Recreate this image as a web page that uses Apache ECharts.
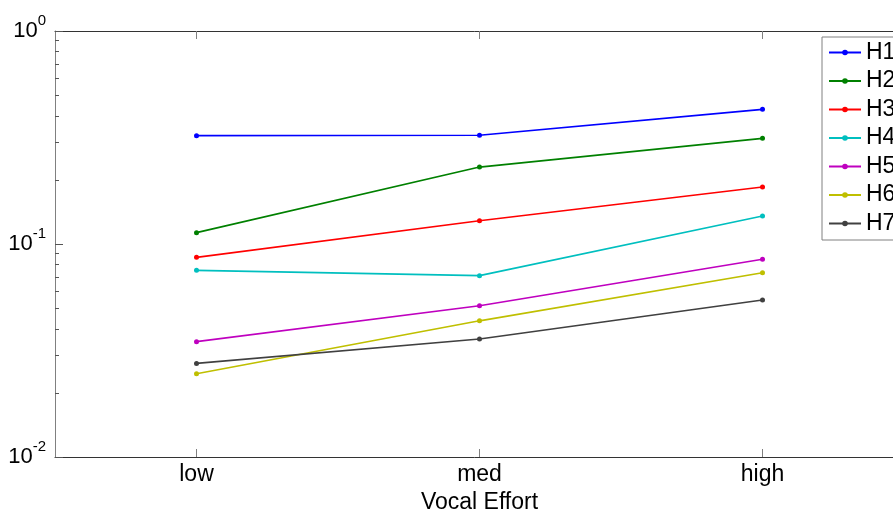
<!DOCTYPE html>
<html>
<head>
<meta charset="utf-8">
<script src="https://cdn.jsdelivr.net/npm/echarts@6/dist/echarts.min.js"></script>
<style>html,body{margin:0;padding:0;background:#fff}#c{width:893px;height:510px}</style>
</head>
<body>
<div id="c"></div>
<script>
var categories = ['low', 'med', 'high'];
var seriesNames = ['H1', 'H2', 'H3', 'H4', 'H5', 'H6', 'H7'];
var H1 = [0.3225, 0.324, 0.429];
var H2 = [0.113, 0.2298, 0.3134];
var H3 = [0.0866, 0.1286, 0.1852];
var H4 = [0.0752, 0.0710, 0.1353];
var H5 = [0.0348, 0.0513, 0.0848];
var H6 = [0.0246, 0.0436, 0.0733];
var H7 = [0.0275, 0.0358, 0.0546];
var majorTicks = [0.01, 0.1, 1];
var minorTicks = [0.02, 0.03, 0.04, 0.05, 0.06, 0.07, 0.08, 0.09, 0.2, 0.3, 0.4, 0.5, 0.6, 0.7, 0.8, 0.9];
var colors = ['#0000ff', '#008000', '#ff0000', '#00bfbf', '#bf00bf', '#bfbf00', '#404040'];
var allData = [H1, H2, H3, H4, H5, H6, H7];

var chart = echarts.init(document.getElementById('c'), null, {renderer: 'canvas'});
var font = 'Arial, "Liberation Sans", sans-serif';
var axisColor = '#333333';

var series = seriesNames.map(function (n, i) {
  return {
    name: n, type: 'line', data: allData[i], xAxisIndex: 0, yAxisIndex: 0,
    symbol: 'circle', symbolSize: 5, showSymbol: true,
    lineStyle: {width: 1.7, color: colors[i]},
    itemStyle: {color: colors[i]},
    animation: false
  };
});

chart.setOption({
  animation: false,
  textStyle: {fontFamily: font},
  grid: {left: 55, top: 31, right: -11, bottom: 53, containLabel: false, outerBoundsMode: 'none'},
  legend: {
    orient: 'vertical', left: 822, top: 37,
    data: seriesNames,
    itemWidth: 32, itemHeight: 7, itemGap: 5.5,
    padding: [4, 8, 5, 6],
    borderColor: '#808080', borderWidth: 1, backgroundColor: '#ffffff',
    textStyle: {fontSize: 23, color: '#000', fontFamily: font, lineHeight: 22}
  },
  xAxis: [{
    type: 'category', data: categories, position: 'bottom', boundaryGap: true,
    axisLine: {show: true, lineStyle: {color: axisColor, width: 1}},
    axisTick: {show: true, inside: true, length: 8, alignWithLabel: true, lineStyle: {color: '#808080'}},
    axisLabel: {fontSize: 23, color: '#000', margin: 6, fontFamily: font},
    splitLine: {show: false},
    name: 'Vocal Effort', nameLocation: 'middle', nameGap: 29,
    nameTextStyle: {fontSize: 23, color: '#000', fontFamily: font}
  }, {
    type: 'category', data: categories, position: 'top', boundaryGap: true,
    axisLine: {show: true, lineStyle: {color: axisColor, width: 1}},
    axisTick: {show: true, inside: true, length: 8, alignWithLabel: true, lineStyle: {color: '#808080'}},
    axisLabel: {show: false}, splitLine: {show: false}
  }],
  yAxis: [{
    type: 'log', logBase: 10, min: 0.01, max: 1, position: 'left',
    axisLine: {show: true, lineStyle: {color: '#808080', width: 1}},
    axisTick: {show: true, inside: true, length: 8, customValues: majorTicks, lineStyle: {color: '#555'}},
    axisLabel: {
      customValues: majorTicks, margin: 9, color: '#000',
      formatter: function (v) {
        var e = Math.round(Math.log10(v));
        return '{b|10}{s|' + e + '}';
      },
      rich: {
        b: {fontSize: 22, fontFamily: font, color: '#000'},
        s: {fontSize: 15, fontFamily: font, color: '#000', padding: [0, 0, 20, 0]}
      }
    },
    splitLine: {show: false}
  }, {
    type: 'log', logBase: 10, min: 0.01, max: 1, position: 'left',
    axisLine: {show: false},
    axisTick: {show: true, inside: true, length: 4, customValues: minorTicks, lineStyle: {color: '#555'}},
    axisLabel: {show: false},
    splitLine: {show: false}
  }],
  series: series
});
</script>
</body>
</html>
